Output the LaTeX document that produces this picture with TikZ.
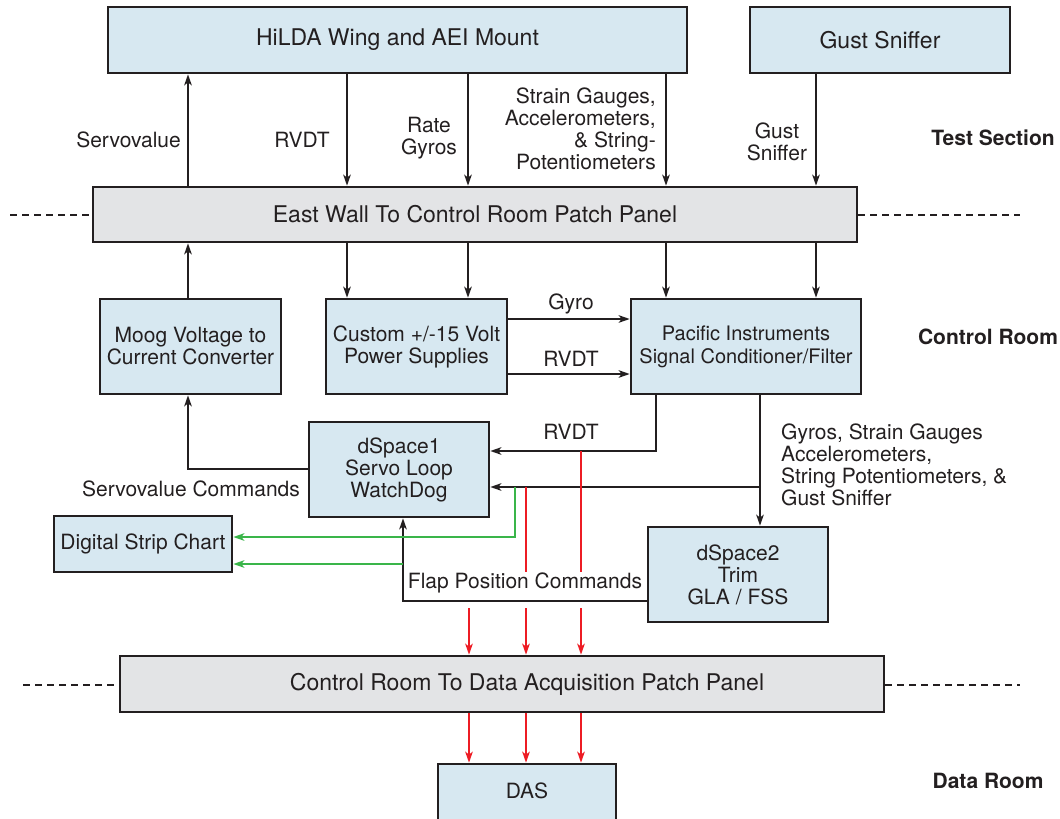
\documentclass[tikz,border=0pt]{standalone}
\usepackage{fontspec}
\setmainfont{TeX Gyre Heros}
\usepackage{tikz}
\usetikzlibrary{arrows.meta}
\definecolor{ink}{HTML}{231F20}
\definecolor{boxblue}{HTML}{D7E8F1}
\definecolor{panelgray}{HTML}{E3E4E6}
\definecolor{sigred}{HTML}{ED1C24}
\definecolor{siggreen}{HTML}{3AB54A}

\begin{document}
\begin{tikzpicture}[x=1pt,y=-1pt,
    blk/.style={draw=ink,line width=2.6pt,fill=boxblue,inner sep=0pt,align=center,
      text=ink,font=\fontsize{21}{22}\selectfont},
    pnl/.style={blk,fill=panelgray},
    big/.style={font=\fontsize{23}{24}\selectfont},
    lbl/.style={inner sep=0pt,text=ink,font=\fontsize{21}{22}\selectfont},
    room/.style={lbl,font=\fontsize{21}{22}\selectfont\bfseries},
    arr/.style={draw=ink,line width=2pt,-{Stealth[length=11pt,width=7.5pt,inset=3pt]}},
    wire/.style={draw=ink,line width=2pt},
    garr/.style={arr,draw=siggreen,color=siggreen},
    rarr/.style={arr,draw=sigred,color=sigred},
    rwire/.style={wire,draw=sigred},
    sep/.style={draw=ink,line width=2pt,dash pattern=on 7pt off 5pt}]
  \useasboundingbox (0,0) rectangle (1060,819);
  \clip (0,0) rectangle (1060,819);

  \node[blk,big,minimum width=579,minimum height=66] (wing) at (397.5,40) {HiLDA Wing and AEI Mount};
  \node[blk,big,minimum width=260,minimum height=66] (gust) at (880,40) {Gust Sniffer};
  \node[pnl,big,minimum width=764,minimum height=55] (ewall) at (475,214.5) {East Wall To Control Room Patch Panel};
  \node[blk,minimum width=181,minimum height=95] (moog) at (190.5,346.5) {Moog Voltage to\\Current Converter};
  \node[blk,minimum width=181,minimum height=95] (custom) at (416.5,346.5) {Custom +/-15 Volt\\Power Supplies};
  \node[blk,minimum width=230,minimum height=95,font=\fontsize{20}{23}\selectfont] (pacific) at (746,346.5) {Pacific Instruments\\Signal Conditioner/Filter};
  \node[blk,minimum width=180,minimum height=95] (ds1) at (399,469.5) {dSpace1\\Servo Loop\\WatchDog};
  \node[blk,minimum width=178,minimum height=56] (strip) at (143,544) {Digital Strip Chart};
  \node[blk,minimum width=180,minimum height=95] (ds2) at (738,574.5) {dSpace2\\Trim\\GLA / FSS};
  \node[pnl,minimum width=764,minimum height=56] (daq) at (502,684) {};
  \node[lbl,big] (daq-t) at (527,684) {Control Room To Data Acquisition Patch Panel};
  \node[blk,minimum width=178,minimum height=60] (das) at (527,794) {};
  \node[lbl] (das-t) at (527,791) {DAS};

  \coordinate (xsv) at (188,0);
  \coordinate (xrv) at (347,0);
  \coordinate (xrg) at (468,0);
  \coordinate (xsg) at (666,0);
  \coordinate (xgs) at (816,0);
  \coordinate (xpl) at (656,0);
  \coordinate (xpm) at (760,0);
  \coordinate (xgr) at (515,0);
  \coordinate (xfl) at (403,0);
  \coordinate (xr1) at (469,0);
  \coordinate (xr2) at (526,0);
  \coordinate (xr3) at (581,0);
  \coordinate (ygy) at (0,319);
  \coordinate (yrv) at (0,374);
  \coordinate (yr) at (0,451);
  \coordinate (yb) at (0,487);
  \coordinate (ysc) at (0,469);
  \coordinate (yg1) at (0,537);
  \coordinate (yg2) at (0,564);
  \coordinate (yfl) at (0,601);
  \coordinate (yre) at (0,572);
  \coordinate (yrt) at (0,608);

  \coordinate (d1) at (10,214.5);
  \coordinate (d2) at (1020,214.5);
  \coordinate (d3) at (23,685);
  \coordinate (d4) at (1020,685);
  \draw[sep] (d1) -- (ewall.west);
  \draw[sep] (ewall.east) -- (d2);
  \draw[sep] (d3) -- (daq.west |- d3);
  \draw[sep] (daq.east |- d4) -- (d4);

  \draw[arr] (ewall.north -| xsv) -- (wing.south -| xsv);
  \foreach \c in {xrv,xrg,xsg} \draw[arr] (wing.south -| \c) -- (ewall.north -| \c);
  \draw[arr] (gust.south -| xgs) -- (ewall.north -| xgs);
  \draw[arr] (moog.north -| xsv) -- (ewall.south -| xsv);
  \foreach \c in {xrv,xrg} \draw[arr] (ewall.south -| \c) -- (custom.north -| \c);
  \foreach \c in {xsg,xgs} \draw[arr] (ewall.south -| \c) -- (pacific.north -| \c);
  \draw[arr] (custom.east |- ygy) -- (pacific.west |- ygy);
  \draw[arr] (custom.east |- yrv) -- (pacific.west |- yrv);
  \draw[arr] (pacific.south -| xpl) |- (ds1.east |- yr);
  \draw[arr] (pacific.south -| xpm) -- (ds2.north -| xpm);
  \draw[arr] (xpm |- yb) -- (ds1.east |- yb);
  \draw[arr] (ds1.west |- ysc) -| (moog.south -| xsv);
  \draw[arr] (ds2.west |- yfl) -| (ds1.south -| xfl);

  \draw[garr] (xgr |- yb) |- (strip.east |- yg1);
  \draw[garr] (xfl |- yg2) -- (strip.east |- yg2);

  \draw[rwire] (xr2 |- yb) -- (xr2 |- yre);
  \draw[rwire] (xr3 |- yr) -- (xr3 |- yre);
  \foreach \c in {xr1,xr2,xr3} {
    \draw[rarr] (\c |- yrt) -- (daq.north -| \c);
    \draw[rarr] (daq.south -| \c) -- (das.north -| \c);
  }

  \node[lbl,anchor=east] (l-servo) at (181,140) {Servovalue};
  \node[lbl] (l-rvdt1) at (302,140) {RVDT};
  \node[lbl,align=center] (l-rate) at (429,138) {Rate\\Gyros};
  \node[lbl,align=right,anchor=east] (l-strain) at (656,129) {Strain Gauges,\\Accelerometers,\\\& String-\\Potentiometers};
  \node[lbl,align=center] (l-gust) at (777,142) {Gust\\Sniffer};
  \node[lbl] (l-gyro) at (571,304) {Gyro};
  \node[lbl] (l-rvdt2) at (571,359) {RVDT};
  \node[lbl] (l-rvdt3) at (571,432) {RVDT};
  \node[lbl,align=left,anchor=west] (l-sig) at (781,465) {Gyros, Strain Gauges\\Accelerometers,\\String Potentiometers, \&\\Gust Sniffer};
  \node[lbl] (l-svc) at (191,489) {Servovalue Commands};
  \node[lbl] (l-flap) at (525,583) {Flap Position Commands};

  \node[room] (r-test) at (993,138) {Test Section};
  \node[room] (r-ctrl) at (988,337) {Control Room};
  \node[room] (r-data) at (988,781) {Data Room};
\end{tikzpicture}
\end{document}
